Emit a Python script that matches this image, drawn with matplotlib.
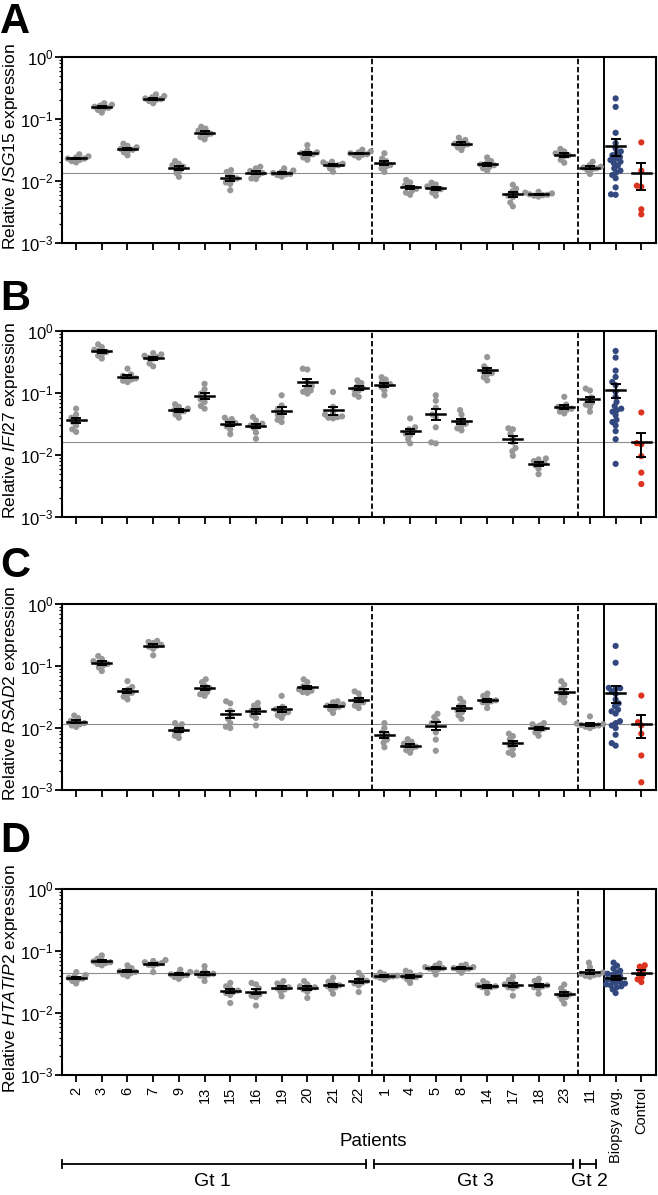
import numpy as np
import matplotlib.pyplot as plt
from matplotlib.transforms import blended_transform_factory

plt.rcParams['font.family'] = 'Liberation Sans'
plt.rcParams['mathtext.fontset'] = 'custom'
plt.rcParams['mathtext.rm'] = 'Liberation Sans'
plt.rcParams['mathtext.it'] = 'Liberation Sans:italic'
plt.rcParams['mathtext.default'] = 'regular'

patients = ['2', '3', '6', '7', '9', '13', '15', '16', '19', '20', '21', '22',
            '1', '4', '5', '8', '14', '17', '18', '23', '11']
tick_labels = patients + ['Biopsy avg.', 'Control']
genes = ['ISG15', 'IFI27', 'RSAD2', 'HTATIP2']
panel_letters = ['A', 'B', 'C', 'D']

# ISG15 per patient biopsy values
isg15 = [
    [0.027, 0.025, 0.024, 0.023, 0.023, 0.022, 0.021, 0.020],
    [0.18, 0.17, 0.165, 0.158, 0.152, 0.148, 0.14, 0.127],
    [0.040, 0.037, 0.035, 0.033, 0.032, 0.031, 0.029, 0.026],
    [0.25, 0.235, 0.225, 0.215, 0.21, 0.205, 0.195, 0.18],
    [0.021, 0.019, 0.018, 0.017, 0.016, 0.015, 0.0135, 0.0117],
    [0.075, 0.070, 0.065, 0.061, 0.058, 0.055, 0.051, 0.047],
    [0.015, 0.014, 0.0125, 0.011, 0.0105, 0.0095, 0.009, 0.0071],
    [0.017, 0.016, 0.0145, 0.0135, 0.013, 0.0125, 0.011, 0.0108],
    [0.016, 0.0148, 0.014, 0.0135, 0.013, 0.0128, 0.0125, 0.0118],
    [0.038, 0.031, 0.029, 0.028, 0.027, 0.026, 0.024, 0.022],
    [0.0205, 0.020, 0.019, 0.0185, 0.018, 0.0175, 0.016, 0.0141],
    [0.032, 0.030, 0.029, 0.028, 0.027, 0.0265, 0.026, 0.024],
    [0.028, 0.023, 0.021, 0.019, 0.018, 0.017, 0.016, 0.014],
    [0.0104, 0.0095, 0.0085, 0.008, 0.0075, 0.007, 0.0065, 0.006],
    [0.0094, 0.0088, 0.0082, 0.0077, 0.0074, 0.007, 0.0065, 0.0058],
    [0.050, 0.046, 0.043, 0.040, 0.039, 0.037, 0.035, 0.0316],
    [0.024, 0.021, 0.0195, 0.0185, 0.018, 0.017, 0.016, 0.0147],
    [0.0087, 0.0075, 0.0068, 0.0062, 0.0058, 0.0055, 0.0045, 0.0039],
    [0.0067, 0.0065, 0.0063, 0.0061, 0.006, 0.0059, 0.0058, 0.0056],
    [0.033, 0.030, 0.028, 0.027, 0.026, 0.025, 0.022, 0.0197],
    [0.0205, 0.018, 0.017, 0.0165, 0.016, 0.0155, 0.015, 0.013],
]
isg15_biopsy = [0.215, 0.157, 0.060, 0.0408, 0.0337, 0.030, 0.028, 0.026, 0.0245, 0.023, 0.0218,
                0.0205, 0.0194, 0.0178, 0.016, 0.0147, 0.0137, 0.0125, 0.0111, 0.0079, 0.0061, 0.006]
isg15_control = [0.042, 0.0147, 0.0084, 0.0081, 0.0035, 0.0029]

ifi27 = [
    [0.056, 0.045, 0.040, 0.036, 0.034, 0.030, 0.026, 0.0236],
    [0.61, 0.55, 0.50, 0.48, 0.46, 0.43, 0.40, 0.36],
    [0.247, 0.20, 0.19, 0.18, 0.172, 0.165, 0.158, 0.15],
    [0.44, 0.42, 0.40, 0.38, 0.37, 0.36, 0.30, 0.27],
    [0.066, 0.060, 0.056, 0.053, 0.051, 0.049, 0.045, 0.040],
    [0.141, 0.115, 0.098, 0.088, 0.079, 0.072, 0.062, 0.056],
    [0.040, 0.038, 0.035, 0.033, 0.031, 0.029, 0.026, 0.0217],
    [0.041, 0.036, 0.032, 0.030, 0.029, 0.027, 0.023, 0.0183],
    [0.092, 0.063, 0.055, 0.050, 0.045, 0.041, 0.037, 0.034],
    [0.247, 0.24, 0.15, 0.13, 0.12, 0.11, 0.105, 0.098],
    [0.104, 0.060, 0.048, 0.045, 0.042, 0.041, 0.040, 0.039],
    [0.16, 0.145, 0.13, 0.12, 0.115, 0.11, 0.095, 0.087],
    [0.18, 0.165, 0.15, 0.14, 0.135, 0.125, 0.11, 0.092],
    [0.039, 0.028, 0.026, 0.024, 0.022, 0.021, 0.018, 0.0154],
    [0.092, 0.075, 0.058, 0.045, 0.040, 0.028, 0.016, 0.0154],
    [0.053, 0.045, 0.037, 0.034, 0.032, 0.030, 0.027, 0.025],
    [0.38, 0.27, 0.24, 0.22, 0.21, 0.20, 0.18, 0.16],
    [0.027, 0.026, 0.022, 0.019, 0.016, 0.013, 0.0115, 0.0097],
    [0.0088, 0.0085, 0.008, 0.0075, 0.0072, 0.0068, 0.006, 0.0049],
    [0.087, 0.065, 0.060, 0.058, 0.056, 0.054, 0.050, 0.047],
    [0.118, 0.110, 0.085, 0.076, 0.070, 0.065, 0.060, 0.050],
]
ifi27_biopsy = [0.477, 0.373, 0.23, 0.182, 0.151, 0.134, 0.105, 0.087, 0.072, 0.0616,
                0.056, 0.053, 0.050, 0.044, 0.037, 0.034, 0.030, 0.0243, 0.018, 0.0072]
ifi27_control = [0.0486, 0.0155, 0.0149, 0.0096, 0.0052, 0.0034]

rsad2 = [
    [0.0159, 0.0145, 0.013, 0.0125, 0.012, 0.0115, 0.011, 0.0104],
    [0.145, 0.13, 0.12, 0.112, 0.108, 0.102, 0.095, 0.083],
    [0.057, 0.046, 0.042, 0.039, 0.037, 0.035, 0.032, 0.029],
    [0.254, 0.245, 0.235, 0.22, 0.212, 0.205, 0.19, 0.149],
    [0.012, 0.0115, 0.0105, 0.0095, 0.009, 0.0083, 0.0075, 0.0069],
    [0.061, 0.055, 0.048, 0.044, 0.041, 0.038, 0.035, 0.033],
    [0.027, 0.025, 0.019, 0.016, 0.014, 0.012, 0.0105, 0.010],
    [0.0254, 0.023, 0.021, 0.019, 0.018, 0.016, 0.0145, 0.011],
    [0.033, 0.022, 0.020, 0.019, 0.018, 0.017, 0.016, 0.0146],
    [0.061, 0.055, 0.047, 0.044, 0.042, 0.040, 0.038, 0.037],
    [0.027, 0.026, 0.024, 0.023, 0.022, 0.021, 0.020, 0.0175],
    [0.039, 0.036, 0.030, 0.028, 0.026, 0.025, 0.023, 0.021],
    [0.012, 0.010, 0.0085, 0.0078, 0.0072, 0.0065, 0.0058, 0.0049],
    [0.0066, 0.006, 0.0056, 0.0053, 0.005, 0.0047, 0.0044, 0.004],
    [0.017, 0.015, 0.013, 0.012, 0.011, 0.0085, 0.0065, 0.0043],
    [0.0296, 0.026, 0.023, 0.021, 0.019, 0.018, 0.016, 0.014],
    [0.036, 0.033, 0.030, 0.028, 0.027, 0.026, 0.025, 0.021],
    [0.0081, 0.0074, 0.0065, 0.0058, 0.0052, 0.0046, 0.004, 0.0037],
    [0.012, 0.0115, 0.011, 0.0102, 0.0098, 0.0092, 0.0085, 0.0075],
    [0.057, 0.050, 0.042, 0.038, 0.035, 0.032, 0.029, 0.026],
    [0.0154, 0.0118, 0.0115, 0.0112, 0.011, 0.0108, 0.0105, 0.010],
]
rsad2_biopsy = [0.211, 0.113, 0.0445, 0.044, 0.043, 0.039, 0.0355, 0.0288, 0.025, 0.0225,
                0.0198, 0.0186, 0.0171, 0.0129, 0.012, 0.011, 0.010, 0.0078, 0.0057, 0.0052]
rsad2_control = [0.0334, 0.0124, 0.011, 0.0081, 0.0036, 0.00133]

htatip2 = [
    [0.0457, 0.041, 0.039, 0.037, 0.036, 0.035, 0.033, 0.030],
    [0.085, 0.075, 0.071, 0.068, 0.066, 0.064, 0.062, 0.0588],
    [0.0588, 0.053, 0.049, 0.047, 0.046, 0.044, 0.042, 0.0393],
    [0.0715, 0.069, 0.066, 0.064, 0.062, 0.060, 0.058, 0.0457],
    [0.050, 0.046, 0.043, 0.042, 0.041, 0.040, 0.038, 0.0356],
    [0.057, 0.048, 0.045, 0.043, 0.042, 0.040, 0.039, 0.0328],
    [0.0306, 0.027, 0.025, 0.023, 0.022, 0.021, 0.0195, 0.0145],
    [0.0306, 0.029, 0.025, 0.022, 0.020, 0.019, 0.018, 0.0132],
    [0.0328, 0.030, 0.028, 0.026, 0.025, 0.024, 0.022, 0.0186],
    [0.0328, 0.029, 0.027, 0.026, 0.025, 0.024, 0.022, 0.0175],
    [0.037, 0.032, 0.030, 0.028, 0.027, 0.026, 0.024, 0.0205],
    [0.0446, 0.038, 0.034, 0.033, 0.031, 0.030, 0.028, 0.0218],
    [0.045, 0.042, 0.040, 0.039, 0.039, 0.038, 0.037, 0.0346],
    [0.048, 0.045, 0.041, 0.039, 0.038, 0.037, 0.035, 0.0306],
    [0.063, 0.058, 0.055, 0.053, 0.052, 0.051, 0.049, 0.0419],
    [0.0606, 0.058, 0.055, 0.053, 0.052, 0.051, 0.050, 0.0446],
    [0.0328, 0.030, 0.028, 0.027, 0.026, 0.026, 0.025, 0.0211],
    [0.0385, 0.034, 0.031, 0.029, 0.027, 0.026, 0.025, 0.019],
    [0.0356, 0.033, 0.030, 0.028, 0.027, 0.026, 0.025, 0.0205],
    [0.0288, 0.025, 0.022, 0.020, 0.019, 0.018, 0.0165, 0.0142],
    [0.065, 0.055, 0.045, 0.043, 0.042, 0.041, 0.040, 0.0385],
]
htatip2_biopsy = [0.065, 0.058, 0.052, 0.048, 0.045, 0.043, 0.041, 0.039, 0.037, 0.035,
                  0.034, 0.032, 0.031, 0.030, 0.029, 0.028, 0.027, 0.026, 0.024, 0.021]
htatip2_control = [0.0588, 0.056, 0.050, 0.0445, 0.038, 0.035, 0.0316]

groups = ['Gt 1', 'Gt 3', 'Gt 2']
group_spans = [(-0.55, 11.3), (11.6, 19.35), (19.6, 20.25)]
group_label_x = [5.3, 15.55, 20.0]

gray = '#979797'
blue = '#33487f'
red = '#dc3420'


def swarm(vals, d=4.6, ppd=61.8, spacing=25.6):
    # simple beeswarm in pixel units, returns x offsets in category units
    y = np.log10(vals) * ppd
    xs = np.zeros(len(y))
    placed = []
    for i in np.argsort(y):
        cands = [0.0]
        for px, py in placed:
            dy = y[i] - py
            if abs(dy) < d:
                dx = np.sqrt(d * d - dy * dy)
                cands += [px - dx, px + dx]
        cands.sort(key=abs)
        for c in cands:
            if all((c - px) ** 2 + (y[i] - py) ** 2 >= d * d - 1e-6 for px, py in placed):
                xs[i] = c
                break
        placed.append((xs[i], y[i]))
    return xs / spacing


def draw_group(ax, x, vals, color):
    vals = np.array(vals)
    ax.scatter(x + swarm(vals), vals, s=20, color=color, edgecolors='none', zorder=2)
    m = vals.mean()
    sem = vals.std(ddof=1) / np.sqrt(len(vals))
    ax.plot([x - 0.37, x + 0.37], [m, m], color='black', lw=1.8, zorder=3)
    ax.errorbar(x, m, yerr=sem, fmt='none', ecolor='black', elinewidth=1.4,
                capsize=3.6, capthick=1.4, zorder=3)
    return m


fig = plt.figure(figsize=(6.58, 11.95), dpi=100)
bottoms = [0.79665, 0.56736, 0.33891, 0.10042]
letter_y = [1 - 33 / 1195, 1 - 310 / 1195, 1 - 577 / 1195, 1 - 852 / 1195]
data = [(isg15, isg15_biopsy, isg15_control),
        (ifi27, ifi27_biopsy, ifi27_control),
        (rsad2, rsad2_biopsy, rsad2_control),
        (htatip2, htatip2_biopsy, htatip2_control)]

for k, (pat, bio, ctrl) in enumerate(data):
    ax = fig.add_axes([0.0942, bottoms[k], 0.9027, 0.1556])
    ax.set_yscale('log')
    ax.set_ylim(1e-3, 1)
    ax.set_xlim(-0.55, 22.57)
    for i, vals in enumerate(pat):
        draw_group(ax, i, vals, gray)
    draw_group(ax, 21, bio, blue)
    ctrl_mean = draw_group(ax, 22, ctrl, red)
    ax.axhline(ctrl_mean, color='#8c8c8c', lw=0.8, zorder=1)
    ax.axvline(11.5, color='black', lw=1.3, ls=(0, (3, 1.5)), zorder=1)
    ax.axvline(19.55, color='black', lw=1.3, ls=(0, (3, 1.5)), zorder=1)
    ax.axvline(20.55, color='black', lw=1.4, zorder=1)

    ax.set_xticks(range(len(tick_labels)))
    ax.set_yticks([1e-3, 1e-2, 1e-1, 1])
    for s in ax.spines.values():
        s.set_linewidth(1.5)
    ax.tick_params(axis='both', which='major', direction='out', length=5, width=1.3)
    ax.tick_params(axis='y', which='major', labelsize=12, pad=1)
    ax.tick_params(axis='y', which='minor', length=2.5, width=0.9)
    if k == 3:
        ax.set_xticklabels(tick_labels, rotation=90, fontsize=10.5)
    else:
        ax.tick_params(axis='x', labelbottom=False)
    ax.set_ylabel('Relative $\\mathit{' + genes[k] + '}$ expression', fontsize=12.5)
    ax.yaxis.set_label_coords(-0.071, 0.52)
    fig.text(0.0, letter_y[k], panel_letters[k], fontsize=30, fontweight='bold',
             ha='left', va='baseline')

# genotype brackets under the bottom panel
tr = blended_transform_factory(ax.transData, fig.transFigure)
yb = 1 - 1164 / 1195
h = 4 / 1195
for (x0, x1), name, xl in zip(group_spans, groups, group_label_x):
    ax.plot([x0, x1], [yb, yb], color='black', lw=1.3, transform=tr, clip_on=False)
    ax.plot([x0, x0], [yb - h, yb + h], color='black', lw=1.3, transform=tr, clip_on=False)
    ax.plot([x1, x1], [yb - h, yb + h], color='black', lw=1.3, transform=tr, clip_on=False)
    ax.text(xl, 1 - 1182 / 1195, name, transform=tr, ha='center', va='center', fontsize=14)
ax.text(11.57, 1 - 1142 / 1195, 'Patients', transform=tr, ha='center', va='center', fontsize=13.5)

fig.savefig('out.png', dpi=100)
